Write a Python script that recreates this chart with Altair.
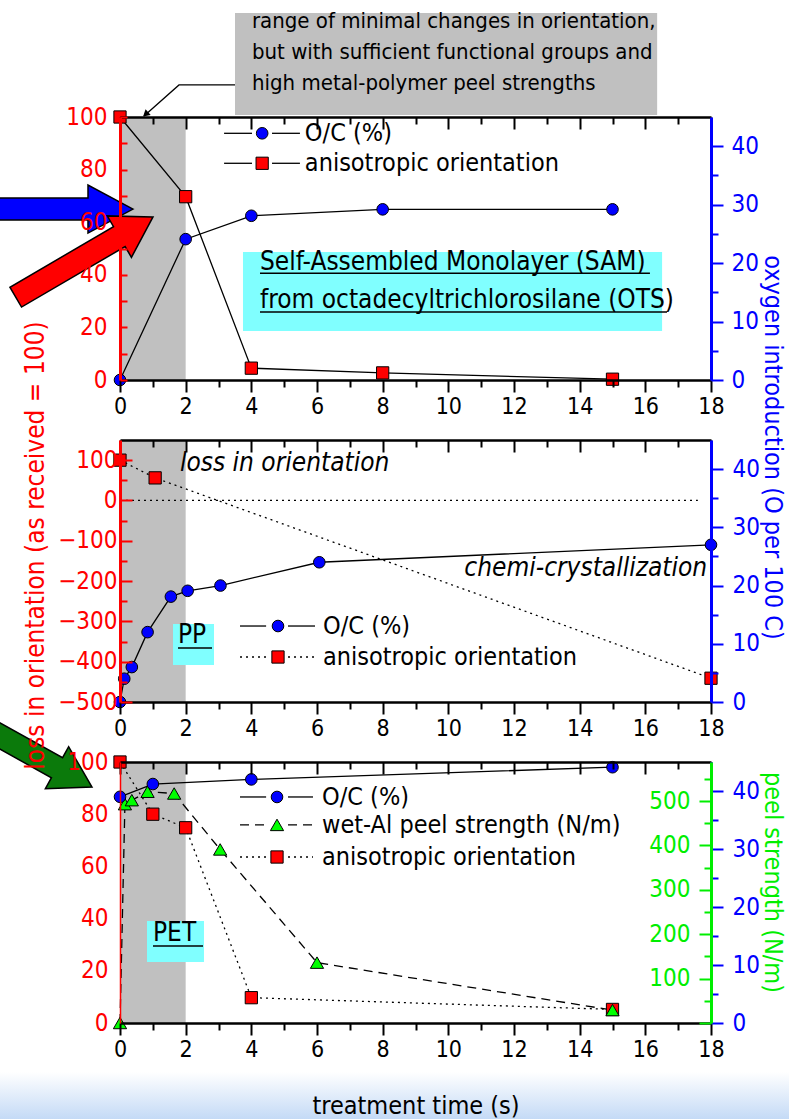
import altair as alt
import pandas as pd

# ---------------- data ----------------
# Self-assembled monolayer from octadecyltrichlorosilane (OTS)
sam_time = [0, 2, 4, 8, 15]
sam_oc = [0, 24.1, 28.1, 29.2, 29.2]          # O/C (%)
sam_orient = [100, 69.7, 4.5, 2.7, 0.3]        # anisotropic orientation

# PP
pp_oc_time = [0, 0.13, 0.36, 0.84, 1.55, 2.06, 3.06, 6.07, 18]
pp_oc = [0, 4.0, 6.0, 12.0, 18.1, 19.1, 20.0, 24.0, 27.0]
pp_orient_time = [0, 1.07, 18]
pp_orient = [100, 56, -441]
pp_ref_time = [0, 17.6]
pp_ref = [0, 0]

# PET
pet_oc_time = [0, 1, 4, 15]
pet_oc = [39.0, 41.2, 42.0, 44.1]
pet_peel_time = [0, 0.15, 0.36, 0.84, 1.65, 3.05, 6, 15]
pet_peel = [0, 493, 502, 521, 517, 391, 136, 29]
pet_orient_time = [0, 1, 2, 4, 15]
pet_orient = [100, 80, 74.8, 9.7, 5.2]

x_major = list(range(0, 19, 2))
x_minor = list(range(1, 18, 2))

# ---------------- layout & style ----------------
FONT = "Liberation Sans Narrow, Arial Narrow, DejaVu Sans Condensed, sans-serif"
W, H = 591, 906
TOP, MID, BOT = (0, 263), (323, 585), (645, 906)   # vertical extent of each panel
RED, BLUE, GREEN = "#ff0000", "#0000ff", "#00ee00"
GRAY, CYAN = "#c0c0c0", "#80ffff"

XS = alt.Scale(domain=[0, 18], nice=False, zero=False)


def yscale(lo, hi, panel):
    return alt.Scale(domain=[lo, hi], range=[panel[1], panel[0]], nice=False, zero=False)


top_l, top_r = yscale(0, 100, TOP), yscale(0, 45, TOP)
mid_l, mid_r = yscale(-500, 150, MID), yscale(0, 45, MID)
bot_l, bot_r, bot_g = yscale(0, 100, BOT), yscale(0, 45, BOT), yscale(0, 588, BOT)


def frame(t, v, **extra):
    d = {"t": t, "v": v}
    d.update(extra)
    return pd.DataFrame(d)


def X(field="t", axis=None):
    return alt.X(f"{field}:Q", scale=XS, axis=axis)


def Y(ys, field="v", axis=None):
    return alt.Y(f"{field}:Q", scale=ys, axis=axis)


def line(t, v, ys, dash=None, width=1.3):
    kw = dict(color="black", strokeWidth=width, clip=False)
    if dash:
        kw["strokeDash"] = dash
    return alt.Chart(frame(t, v)).mark_line(**kw).encode(x=X(), y=Y(ys))


MARKER = {
    "circle": dict(shape="circle", fill=BLUE, size=135),
    "square": dict(shape="square", fill=RED, size=150),
    "triangle": dict(shape="triangle-up", fill="#00ff00", size=175),
}


def points(t, v, ys, kind):
    m = MARKER[kind]
    return alt.Chart(frame(t, v)).mark_point(
        filled=True, stroke="black", strokeWidth=1, opacity=1, clip=False, **m
    ).encode(x=X(), y=Y(ys))


def segs(x1, x2, v, ys, dash=None, color="black", width=1.3):
    kw = dict(color=color, strokeWidth=width, clip=False)
    if dash:
        kw["strokeDash"] = dash
    return alt.Chart(frame(x1, v, t2=x2)).mark_rule(**kw).encode(
        x=X(), x2="t2:Q", y=Y(ys))


def box(x1, x2, v1, v2, ys, color):
    return alt.Chart(frame([x1], [v1], t2=[x2], v2=[v2])).mark_rect(
        color=color, opacity=1, clip=False).encode(x=X(), x2="t2:Q", y=Y(ys), y2="v2:Q")


def label(x, v, ys, s, size=25, align="left", color="black", style="normal"):
    return alt.Chart(frame([x], [v], s=[s])).mark_text(
        align=align, baseline="middle", font=FONT, fontSize=size, color=color,
        fontStyle=style, clip=False).encode(x=X(), y=Y(ys), text="s:N")


def arrow(x, v, ys, path, angle, color):
    return alt.Chart(frame([x], [v])).mark_point(
        shape=path, size=10000, angle=angle, filled=True, fill=color,
        stroke="black", strokeWidth=1.5, opacity=1, clip=False).encode(x=X(), y=Y(ys))


def axis_only(ys, lo, xaxis=None, yaxis=None):
    return alt.Chart(frame([0], [lo])).mark_point(opacity=0).encode(
        x=X(axis=xaxis), y=Y(ys, axis=yaxis))


# ---------------- axes ----------------
def x_axes(panel, ys, lo, title=None):
    top, bottom = panel
    base = dict(orient="bottom", grid=False, tickColor="black", tickWidth=2,
                zindex=1, labelFlush=False, labelOverlap=False)
    lab = dict(labelFont=FONT, labelFontSize=23, labelColor="black", labelPadding=3)
    ttl = dict(title=None)
    if title:
        ttl = dict(title=title, titleFont=FONT, titleFontSize=25, titleFontWeight="normal",
                   titleColor="black", titleX=W / 2, titleY=82, titleBaseline="middle")
    axes = [
        alt.Axis(offset=bottom - H, values=x_major, tickSize=12, domainColor="black",
                 domainWidth=2.5, **lab, **ttl, **base),
        alt.Axis(offset=bottom - H, values=x_minor, tickSize=7, domain=False,
                 labels=False, title=None, **base),
        alt.Axis(offset=top - H, values=x_major, tickSize=12, domainColor="black",
                 domainWidth=2.5, labels=False, title=None, **base),
        alt.Axis(offset=top - H, values=x_minor, tickSize=7, domain=False,
                 labels=False, title=None, **base),
    ]
    return [axis_only(ys, lo, xaxis=a) for a in axes]


def y_axis(color, values, tick, **kw):
    base = dict(grid=False, values=values, tickSize=tick, tickColor=color, tickWidth=2,
                domainColor=color, domainWidth=3, labelColor=color, labelFont=FONT,
                labelFontSize=24, labelBaseline="middle", zindex=1)
    base.update(kw)
    if "title" not in base:
        base["title"] = None
    return alt.Axis(**base)


def title_kw(text, color, angle, tx, ty, size=26):
    return dict(title=text, titleColor=color, titleFont=FONT, titleFontSize=size,
                titleFontWeight="normal", titleAngle=angle, titleX=tx, titleY=ty,
                titleAlign="center", titleBaseline="middle")


y_axes = [
    # top panel
    axis_only(top_l, 0, yaxis=y_axis(RED, list(range(0, 101, 10)), 7, orient="right",
              offset=-W, labelAlign="right", labelPadding=-20,
              labelExpr="datum.value % 20 === 0 ? datum.label : ''")),
    axis_only(top_r, 0, yaxis=y_axis(BLUE, [0, 10, 20, 30, 40], 12, orient="right",
              labelPadding=8)),
    axis_only(top_r, 0, yaxis=y_axis(BLUE, [5, 15, 25, 35], 7, orient="right",
              labels=False, domain=False)),
    # middle panel
    axis_only(mid_l, -500, yaxis=y_axis(RED, list(range(-500, 101, 100)), 12, orient="right",
              offset=-W, labelAlign="right", labelPadding=-15,
              **title_kw("loss in orientation (as received = 100)", RED, 270, -85, 428))),
    axis_only(mid_l, -500, yaxis=y_axis(RED, list(range(-450, 101, 100)), 7, orient="right",
              offset=-W, labels=False, domain=False)),
    axis_only(mid_r, 0, yaxis=y_axis(BLUE, [0, 10, 20, 30, 40], 12, orient="right",
              labelPadding=9,
              **title_kw("oxygen introduction (O per 100 C)", BLUE, 90, 61, 330, 25))),
    axis_only(mid_r, 0, yaxis=y_axis(BLUE, [5, 15, 25, 35], 7, orient="right",
              labels=False, domain=False)),
    # bottom panel
    axis_only(bot_l, 0, yaxis=y_axis(RED, list(range(0, 101, 20)), 0, orient="left",
              ticks=False, labelPadding=12, domainWidth=1.5)),
    axis_only(bot_r, 0, yaxis=y_axis(BLUE, [0, 10, 20, 30, 40], 12, orient="right",
              labelPadding=9)),
    axis_only(bot_r, 0, yaxis=y_axis(BLUE, [5, 15, 25, 35], 7, orient="right",
              labels=False, domain=False)),
    axis_only(bot_g, 0, yaxis=y_axis(GREEN, list(range(0, 501, 100)), 12, orient="left",
              offset=-W, labelPadding=9,
              labelExpr="datum.value > 0 ? datum.label : ''",
              **title_kw("peel strength (N/m)", GREEN, 90, 61, 765, 25))),
    axis_only(bot_g, 0, yaxis=y_axis(GREEN, list(range(50, 551, 100)), 7, orient="left",
              offset=-W, labels=False, domain=False)),
]

x_ax = (x_axes(TOP, top_l, 0) + x_axes(MID, mid_l, -500)
        + x_axes(BOT, bot_l, 0, title="treatment time (s)"))

# ---------------- page backdrop ----------------
fade = alt.LinearGradient(gradient="linear", x1=0, x2=0, y1=0, y2=1,
                          stops=[alt.GradientStop(color="#ffffff", offset=0),
                                 alt.GradientStop(color="#c4daf6", offset=1)])
backdrop = alt.Chart(frame([-3.66], [-18.8], t2=[20.4], v2=[-36.8])).mark_rect(
    color=fade, clip=False).encode(x=X(), x2="t2:Q", y=Y(bot_l), y2="v2:Q")

# ---------------- top panel: SAM / OTS ----------------
top_layers = [
    box(0, 2, 0, 100, top_l, GRAY),
    box(3.746, 16.51, 48.7, 18.6, top_l, CYAN),
    line(sam_time, sam_orient, top_l),
    line(sam_time, sam_oc, top_r),
    points(sam_time, sam_orient, top_l, "square"),
    points(sam_time, sam_oc, top_r, "circle"),
    # legend
    segs([3.17, 4.63], [4.02, 5.48], [93.8, 93.8], top_l),
    segs([3.17, 4.63], [4.02, 5.48], [82.4, 82.4], top_l),
    points([4.33], [93.8], top_l, "circle"),
    points([4.33], [82.4], top_l, "square"),
    label(5.63, 93.8, top_l, "O/C (%)"),
    label(5.63, 82.4, top_l, "anisotropic orientation"),
    # sample name
    label(4.264, 44.9, top_l, "Self-Assembled Monolayer (SAM)", size=26),
    label(4.264, 30.4, top_l, "from octadecyltrichlorosilane (OTS)", size=26),
    segs([4.264, 4.264], [16.14, 16.66], [40.6, 25.9], top_l, width=1.5),
    # callout box above the panel
    box(3.503, 16.36, 139.5, 100.8, top_l, GRAY),
    label(4.02, 136.6, top_l, "range of minimal changes in orientation,", size=22),
    label(4.02, 124.6, top_l, "but with sufficient functional groups and", size=22),
    label(4.02, 112.8, top_l, "high metal-polymer peel strengths", size=22),
    line([3.503, 1.797, 0.731], [112.2, 112.2, 100.4], top_l, width=1.3),
    alt.Chart(frame([0.78], [101.0])).mark_point(
        shape="triangle-right", size=60, angle=138.5, filled=True, fill="black",
        opacity=1, clip=False).encode(x=X(), y=Y(top_l)),
]

# ---------------- middle panel: PP ----------------
mid_layers = [
    box(0, 2, -500, 150, mid_l, GRAY),
    box(1.614, 2.863, -306.5, -408.2, mid_l, CYAN),
    line(pp_ref_time, pp_ref, mid_l, dash=[2, 4]),
    line(pp_orient_time, pp_orient, mid_l, dash=[2, 4]),
    line(pp_oc_time, pp_oc, mid_r),
    points(pp_orient_time, pp_orient, mid_l, "square"),
    points(pp_oc_time, pp_oc, mid_r, "circle"),
    segs([3.655, 5.117], [4.45, 5.939], [-311.5, -311.5], mid_l),
    segs([3.655, 5.117], [4.45, 5.939], [-388.4, -388.4], mid_l, dash=[2, 4]),
    points([4.812], [-311.5], mid_l, "circle"),
    points([4.812], [-388.4], mid_l, "square"),
    label(6.183, -311.5, mid_l, "O/C (%)"),
    label(6.183, -388.4, mid_l, "anisotropic orientation"),
    label(1.767, -333.8, mid_l, "PP", size=26),
    segs([1.767], [2.802], [-366], mid_l, width=1.5),
    label(1.827, 93, mid_l, "loss in orientation", size=26, style="italic"),
    label(17.88, -167.6, mid_l, "chemi-crystallization", size=26, align="right",
          style="italic"),
]

# ---------------- bottom panel: PET ----------------
bot_layers = [
    box(0, 2, 0, 100, bot_l, GRAY),
    box(0.822, 2.558, 39.1, 23.4, bot_l, CYAN),
    line(pet_orient_time, pet_orient, bot_l, dash=[2, 4]),
    line(pet_peel_time, pet_peel, bot_g, dash=[9, 6]),
    line(pet_oc_time, pet_oc, bot_r),
    points(pet_orient_time, pet_orient, bot_l, "square"),
    points(pet_peel_time, pet_peel, bot_g, "triangle"),
    points(pet_oc_time, pet_oc, bot_r, "circle"),
    segs([3.655, 5.117], [4.45, 5.878], [86.6, 86.6], bot_l),
    segs([3.655, 5.117], [4.45, 5.878], [75.9, 75.9], bot_l, dash=[9, 6]),
    segs([3.655, 5.117], [4.45, 5.878], [63.6, 63.6], bot_l, dash=[2, 4]),
    points([4.782], [86.6], bot_l, "circle"),
    points([4.782], [75.9], bot_l, "triangle"),
    points([4.782], [63.6], bot_l, "square"),
    label(6.152, 86.6, bot_l, "O/C (%)"),
    label(6.152, 75.9, bot_l, "wet-Al peel strength (N/m)"),
    label(6.152, 63.6, bot_l, "anisotropic orientation"),
    label(1.005, 34.5, bot_l, "PET", size=26),
    segs([1.005], [2.528], [29.5], bot_l, width=1.5),
]

# ---------------- pointer arrows ----------------
ARROW_BLUE = "M0,0 L-0.9,-0.48 L-0.9,-0.22 L-4,-0.22 L-4,0.22 L-0.9,0.22 L-0.9,0.48 Z"
ARROW_RED = "M0,0 L-0.78,-0.48 L-0.78,-0.23 L-3.18,-0.23 L-3.18,0.23 L-0.78,0.23 L-0.78,0.48 Z"
ARROW_GREEN = "M0,0 L-0.8,-0.48 L-0.8,-0.23 L-4,-0.23 L-4,0.23 L-0.8,0.23 L-0.8,0.48 Z"
arrows = [
    arrow(0.396, 65.0, top_l, ARROW_BLUE, 0, BLUE),
    arrow(1.005, 62.0, top_l, ARROW_RED, 329.7, RED),
    arrow(-0.853, 90.4, bot_l, ARROW_GREEN, 29, "#0b7a0b"),
]

chart = alt.layer(
    backdrop, *top_layers, *mid_layers, *bot_layers, *x_ax, *y_axes, *arrows
).resolve_scale(y="independent").resolve_axis(x="independent", y="independent").properties(
    width=W, height=H,
    autosize=alt.AutoSizeParams(type="none"),
    padding={"left": 120, "top": 117, "right": 78, "bottom": 96},
    background="white",
).configure_view(strokeWidth=0)

chart.save("out.html", embed_options={"renderer": "svg", "actions": False})
